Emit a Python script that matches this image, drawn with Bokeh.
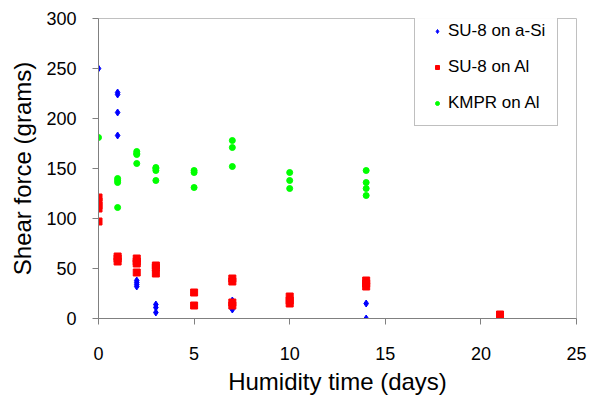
from bokeh.plotting import figure
from bokeh.models import Legend, LegendItem, Range1d, FixedTicker
from bokeh.embed import file_html
from bokeh.resources import INLINE

# SU-8 on a-Si (blue diamonds)
asi_days = [0, 1, 1, 1, 1, 2, 2, 2, 2, 3, 3, 3, 7, 7, 10, 14, 14]
asi_force = [250, 226, 224, 206, 183, 38, 36, 34, 32, 14, 11, 6, 18, 9, 16, 15, 0]

# SU-8 on Al (red squares)
al_days = [0, 0, 0, 0, 0, 1, 1, 1, 2, 2, 2, 2, 3, 3, 3, 5, 5, 7, 7, 7, 7, 10, 10, 10, 14, 14, 14, 21]
al_force = [121, 117, 113, 110, 97, 62, 60, 57, 60, 57, 55, 46, 53, 51, 45, 26, 13,
            40, 37, 16, 13, 22, 18, 15, 38, 35, 32, 4]

# KMPR on Al (green circles)
kmpr_days = [0, 1, 1, 1, 1, 2, 2, 2, 2, 3, 3, 3, 3, 5, 5, 5, 7, 7, 7, 10, 10, 10, 14, 14, 14, 14]
kmpr_force = [181, 140, 138, 136, 111, 167, 165, 164, 155, 151, 150, 148, 138, 148, 146, 131,
              178, 171, 152, 146, 138, 130, 148, 136, 130, 123]

x_ticks = [0, 5, 10, 15, 20, 25]
y_ticks = [0, 50, 100, 150, 200, 250, 300]

FONT = "Liberation Sans"

p = figure(width=596, height=398, output_backend="svg", toolbar_location=None,
           x_range=Range1d(0, 25), y_range=Range1d(0, 300),
           min_border_left=98, min_border_right=20, min_border_top=18, min_border_bottom=80)
p.grid.visible = False
p.outline_line_color = "#c0c0c0"
p.background_fill_color = "white"
p.border_fill_color = "white"

r1 = p.scatter(asi_days, asi_force, marker="diamond", size=7, color="#0000FF")
r2 = p.scatter(al_days, al_force, marker="square", size=7, color="#FF0000")
r3 = p.scatter(kmpr_days, kmpr_force, marker="circle", size=6, color="#00FF00")

for ax in (p.xaxis[0], p.yaxis[0]):
    ax.axis_line_color = "#808080"
    ax.major_tick_line_color = "#808080"
    ax.major_tick_out = 6
    ax.major_tick_in = 0
    ax.minor_tick_line_color = None
    ax.major_label_text_font = FONT
    ax.major_label_text_font_size = "18px"
    ax.major_label_text_color = "black"
    ax.axis_label_text_font = FONT
    ax.axis_label_text_font_size = "24px"
    ax.axis_label_text_font_style = "normal"
    ax.axis_label_text_color = "black"

p.xaxis.ticker = FixedTicker(ticks=x_ticks)
p.yaxis.ticker = FixedTicker(ticks=y_ticks)
p.xaxis.axis_label = "Humidity time (days)"
p.yaxis.axis_label = "Shear force (grams)"
p.xaxis.major_label_standoff = 22
p.yaxis.major_label_standoff = 16
p.xaxis.axis_label_standoff = 5
p.yaxis.axis_label_standoff = 7

legend = Legend(items=[LegendItem(label="SU-8 on a-Si", renderers=[r1]),
                       LegendItem(label="SU-8 on Al", renderers=[r2]),
                       LegendItem(label="KMPR on Al", renderers=[r3])],
                location=(316, 192))
legend.border_line_color = "#808080"
legend.border_line_width = 1
legend.background_fill_color = "white"
legend.padding = 12
legend.glyph_width = 20
legend.glyph_height = 10
legend.label_height = 18
legend.label_standoff = 1
legend.spacing = 16
legend.label_text_font = FONT
legend.label_text_font_size = "17px"
legend.label_text_color = "black"
legend.margin = 0
p.add_layout(legend, "center")

open("out.html", "w").write(file_html(p, INLINE))
